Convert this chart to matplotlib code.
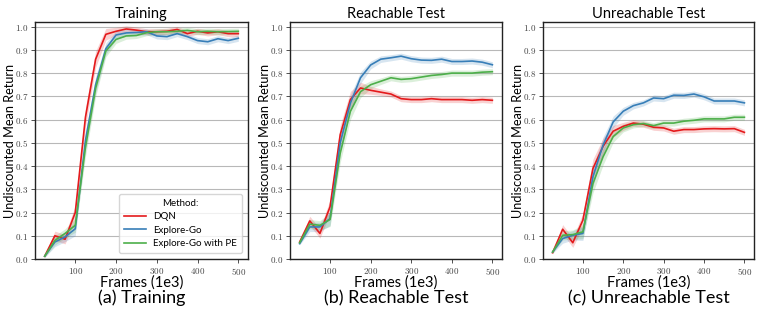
import matplotlib
matplotlib.use("Agg")
import matplotlib.pyplot as plt
from matplotlib.ticker import FuncFormatter, MultipleLocator
import numpy as np

plt.rcParams['font.family'] = ['Lato', 'DejaVu Sans']
plt.rcParams['mathtext.fontset'] = 'cm'

frames = [25, 50, 75, 100, 125, 150, 175, 200, 225, 250, 275, 300, 325, 350, 375, 400, 425, 450, 475, 500]
methods = ["DQN", "Explore-Go", "Explore-Go with PE"]
colors = ["#e41a1c", "#377eb8", "#4daf4a"]
panel_titles = ["Training", "Reachable Test", "Unreachable Test"]
captions = ["(a) Training", "(b) Reachable Test", "(c) Unreachable Test"]

train_dqn = [0.012, 0.10, 0.085, 0.20, 0.61, 0.86, 0.967, 0.98, 0.99, 0.985, 0.978, 0.978, 0.98, 0.988, 0.97, 0.98, 0.973, 0.978, 0.97, 0.97]
train_ego = [0.012, 0.073, 0.095, 0.13, 0.51, 0.75, 0.905, 0.964, 0.973, 0.975, 0.978, 0.96, 0.957, 0.97, 0.957, 0.94, 0.935, 0.948, 0.94, 0.95]
train_pe = [0.012, 0.08, 0.11, 0.145, 0.48, 0.735, 0.895, 0.945, 0.96, 0.962, 0.974, 0.978, 0.978, 0.98, 0.984, 0.978, 0.98, 0.978, 0.979, 0.98]

reach_dqn = [0.073, 0.164, 0.11, 0.225, 0.535, 0.686, 0.736, 0.726, 0.718, 0.71, 0.69, 0.686, 0.686, 0.69, 0.686, 0.686, 0.686, 0.683, 0.686, 0.683]
reach_ego = [0.066, 0.138, 0.138, 0.174, 0.50, 0.67, 0.78, 0.835, 0.86, 0.866, 0.873, 0.862, 0.856, 0.855, 0.86, 0.85, 0.85, 0.852, 0.847, 0.836]
reach_pe = [0.07, 0.15, 0.145, 0.17, 0.455, 0.635, 0.72, 0.75, 0.765, 0.78, 0.773, 0.776, 0.783, 0.79, 0.794, 0.80, 0.80, 0.80, 0.804, 0.806]

unreach_dqn = [0.027, 0.128, 0.07, 0.167, 0.39, 0.485, 0.55, 0.571, 0.585, 0.58, 0.567, 0.564, 0.55, 0.557, 0.557, 0.56, 0.561, 0.56, 0.561, 0.545]
unreach_ego = [0.03, 0.088, 0.102, 0.11, 0.355, 0.49, 0.59, 0.636, 0.66, 0.672, 0.693, 0.69, 0.705, 0.704, 0.71, 0.698, 0.68, 0.68, 0.68, 0.672]
unreach_pe = [0.03, 0.102, 0.105, 0.117, 0.325, 0.44, 0.527, 0.564, 0.578, 0.583, 0.574, 0.585, 0.585, 0.593, 0.597, 0.603, 0.603, 0.603, 0.61, 0.61]

# half-width of the shaded band (std)
band = [0.005, 0.02, 0.02, 0.03, 0.04, 0.035, 0.025, 0.017, 0.014, 0.013, 0.013, 0.013, 0.013, 0.013, 0.013, 0.013, 0.013, 0.013, 0.013, 0.013]

data = [
    [train_dqn, train_ego, train_pe],
    [reach_dqn, reach_ego, reach_pe],
    [unreach_dqn, unreach_ego, unreach_pe],
]

W, H = 761, 315
fig = plt.figure(figsize=(W / 100, H / 100), dpi=100)
lefts = [35, 290, 543]
widths = [213, 212, 211]
top, bottom = 22, 259
ah = bottom - top

fmt_y = FuncFormatter(lambda v, p: r"$%.1f$" % v)
fmt_x = FuncFormatter(lambda v, p: r"$%d$" % int(round(v)))

for i in range(3):
    ax = fig.add_axes([lefts[i] / W, (H - bottom) / H, widths[i] / W, ah / H])
    for j in range(3):
        y = np.array(data[i][j])
        s = np.array(band)
        ax.fill_between(frames, y - s, y + s, color=colors[j], alpha=0.2, linewidth=0)
        ax.plot(frames, y, color=colors[j], lw=1.2, label=methods[j])
    ax.set_ylim(0, 1.02)
    ax.set_xlim(1.25, 523.75)
    ax.yaxis.set_major_locator(MultipleLocator(0.1))
    ax.set_xticks([100, 200, 300, 400, 500])
    ax.yaxis.set_major_formatter(fmt_y)
    ax.xaxis.set_major_formatter(fmt_x)
    ax.tick_params(labelsize=6.5, length=3, width=0.6, pad=2, colors='#333333', labelcolor='#444444')
    ax.grid(axis='y', color='#b8b8b8', lw=0.8)
    ax.set_axisbelow(True)
    for sp in ax.spines.values():
        sp.set_color('#222222')
        sp.set_linewidth(1.0)
    ax.set_title(panel_titles[i], fontsize=10.5, pad=3)
    ax.set_xlabel("Frames (1e3)", fontsize=10.5)
    ax.xaxis.set_label_coords(0.5, -16 / ah)
    ax.set_ylabel("Undiscounted Mean Return", fontsize=9.2)
    ax.yaxis.set_label_coords(-19 / widths[i], 0.5)
    ax.text(0.5, -39 / ah, captions[i], transform=ax.transAxes, ha='center', va='center', fontsize=13)
    if i == 0:
        leg = ax.legend(title="Method:", loc='lower right', fontsize=7, title_fontsize=7,
                        frameon=True, borderpad=0.5, labelspacing=0.45, handlelength=2.2,
                        handletextpad=0.8, bbox_to_anchor=(0.995, 0.005))
        leg.get_frame().set_edgecolor('#cccccc')

fig.savefig("out.png", dpi=100)
